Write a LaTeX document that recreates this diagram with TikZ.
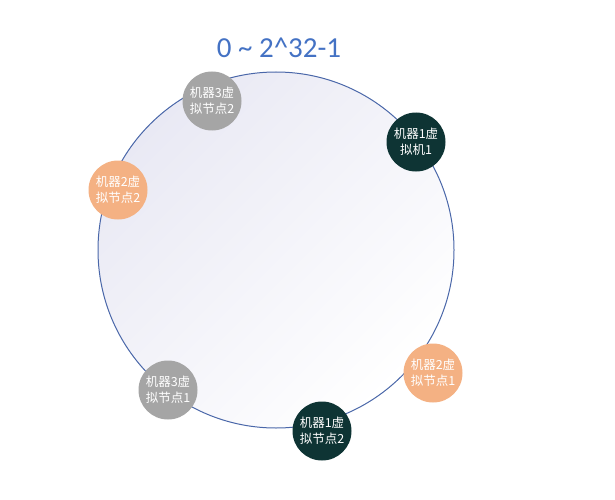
\documentclass[tikz,border=0pt]{standalone}
\usepackage{fontspec}
\setmainfont{Carlito}
\newfontfamily\cjk{Noto Sans CJK SC}
\usepackage{tikz}

\definecolor{ringblue}{HTML}{4A67A9}
\definecolor{titleblue}{HTML}{4472C4}
\definecolor{lav}{HTML}{E9E9F4}
\definecolor{mdark}{HTML}{0E3434}
\definecolor{morange}{HTML}{F4B183}
\definecolor{mgray}{HTML}{A5A5A5}

\begin{document}
\begin{tikzpicture}[x=1pt, y=-1pt,
  vnode/.style={circle, minimum size=59pt, inner sep=0pt, text=white, align=center,
    font=\cjk\fontsize{12.5}{16}\selectfont},
  m1/.style={vnode, fill=mdark},
  m2/.style={vnode, fill=morange},
  m3/.style={vnode, fill=mgray}]
\useasboundingbox (0,0) rectangle (615,500);
\shade[top color=lav, bottom color=white, shading angle=45, draw=ringblue, line width=1pt] (276,250) circle (178);
\node (C) at (276,250) {};
\node[text=titleblue, font=\fontsize{29}{32}\selectfont] (T) at (279,48) {0 \textasciitilde{} 2\textasciicircum32-1};
\node[m3] (M3b) at (212,101) {机器3虚\\拟节点2};
\node[m1] (M1a) at (416,142) {机器1虚\\拟机1};
\node[m2] (M2b) at (118,190) {机器2虚\\拟节点2};
\node[m2] (M2a) at (433,373) {机器2虚\\拟节点1};
\node[m3] (M3a) at (168,390) {机器3虚\\拟节点1};
\node[m1] (M1b) at (322,431) {机器1虚\\拟节点2};
\end{tikzpicture}
\end{document}
